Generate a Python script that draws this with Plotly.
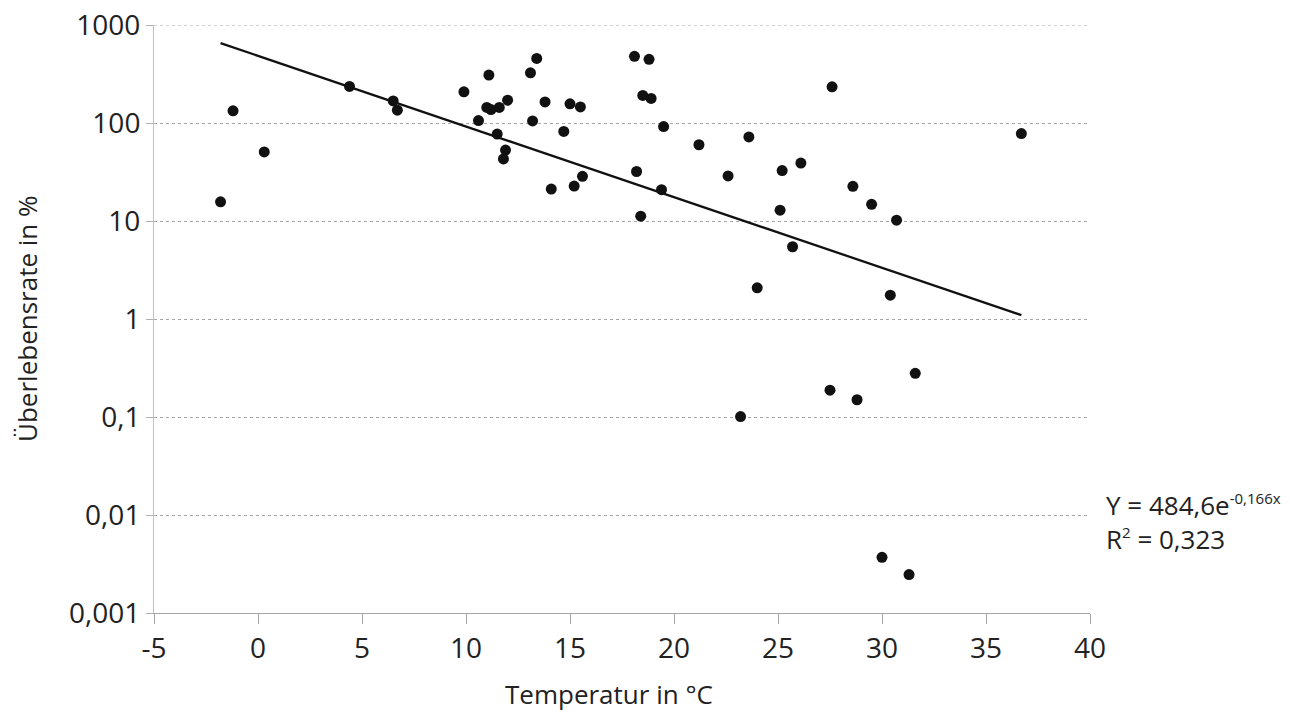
import math
import plotly.graph_objects as go

temp = [-1.8, -1.2, 0.3, 4.4, 6.5, 6.7, 9.9, 10.6, 11.1, 11.0, 11.2, 11.6, 12.0, 11.5, 11.9, 11.8,
        13.1, 13.4, 13.2, 13.8, 14.7, 14.1, 15.0, 15.5, 15.2, 15.6, 18.1, 18.8, 18.5, 18.9, 19.5,
        18.2, 19.4, 18.4, 21.2, 23.6, 22.6, 25.2, 26.1, 25.1, 25.7, 24.0, 27.6, 28.6, 29.5, 30.7,
        30.4, 36.7, 23.2, 27.5, 28.8, 31.6, 30.0, 31.3]
survival = [15.7, 133, 50.7, 236, 168, 135, 208, 106, 308, 144, 137, 144, 171, 77, 53, 43,
            325, 456, 105, 164, 82, 21.2, 157, 146, 22.7, 28.6, 479, 446, 191, 178, 92,
            32, 20.9, 11.2, 60, 72, 28.8, 32.7, 39, 12.9, 5.46, 2.08, 234, 22.6, 14.8, 10.2,
            1.75, 78, 0.101, 0.188, 0.15, 0.279, 0.0037, 0.00247]

fit_a = 484.6
fit_b = -0.166
fit_x = [min(temp), max(temp)]
fit_y = [fit_a * math.exp(fit_b * t) for t in fit_x]

ytick_vals = [0.001, 0.01, 0.1, 1, 10, 100, 1000]
ytick_text = ["0,001", "0,01", "0,1", "1", "10", "100", "1000"]
xtick_vals = [-5, 0, 5, 10, 15, 20, 25, 30, 35, 40]
xtick_text = ["-5", "0", "5", "10", "15", "20", "25", "30", "35", "40"]

FONT = "Open Sans"
TXT = "#222222"
GRID = "#a6a6a6"

fig = go.Figure()
fig.add_trace(go.Scatter(x=temp, y=survival, mode="markers",
                         marker=dict(color="#111111", size=11), showlegend=False))
fig.add_trace(go.Scatter(x=fit_x, y=fit_y, mode="lines",
                         line=dict(color="#111111", width=2.3), showlegend=False))

fig.update_layout(
    width=1292, height=711,
    paper_bgcolor="white", plot_bgcolor="white",
    margin=dict(l=154, r=202, t=25, b=98),
    font=dict(family=FONT, size=26, color=TXT),
    xaxis=dict(range=[-5, 40], tickvals=xtick_vals, ticktext=xtick_text, showgrid=False,
               showline=True, linecolor="#a6a6a6", linewidth=1,
               ticks="outside", ticklen=10, tickcolor="#a6a6a6",
               tickfont=dict(size=28, color=TXT), zeroline=False, automargin=False),
    yaxis=dict(type="log", range=[-3, 3], tickvals=ytick_vals, ticktext=ytick_text,
               showgrid=True, gridcolor=GRID, griddash="3px,3px", gridwidth=1,
               showline=True, linecolor="#c0c0c0", linewidth=1,
               ticks="outside", ticklen=7, tickcolor="#b0b0b0",
               tickfont=dict(size=28, color=TXT), zeroline=False, automargin=False),
    shapes=[dict(type="line", xref="paper", x0=0, x1=1, yref="y", y0=1000, y1=1000,
                 line=dict(color=GRID, width=1, dash="3px,3px"), layer="below")],
    annotations=[
        dict(xref="paper", yref="paper", x=(609 - 154) / 936, y=(613 - 694) / 588,
             xanchor="center", yanchor="middle", text="Temperatur in °C", showarrow=False,
             font=dict(size=26, color=TXT)),
        dict(xref="paper", yref="paper", x=(27 - 154) / 936, y=0.5, textangle=-90,
             xanchor="center", yanchor="middle", text="Überlebensrate in %", showarrow=False,
             font=dict(size=26, color=TXT)),
        dict(xref="paper", yref="paper", x=(1104 - 154) / 936, y=(613 - 522) / 588,
             xanchor="left", yanchor="middle",
             text=("Y = 484,6e<sup><span style='font-size:15px'>-0,166x</span></sup>"
                   "<br>R<sup><span style='font-size:15px'>2</span></sup> = 0,323"),
             showarrow=False, align="left",
             font=dict(size=26, color=TXT)),
    ],
)

fig.write_html("out.html", config={"displayModeBar": False},
               post_script="document.body.style.margin='0';")
